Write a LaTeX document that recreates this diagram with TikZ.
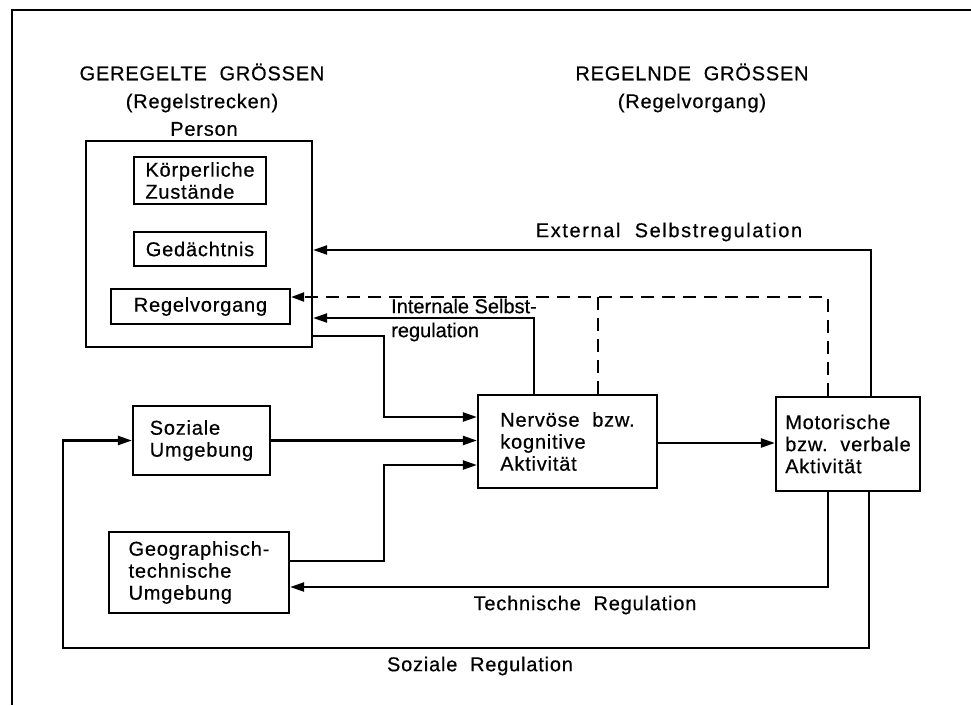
\documentclass[tikz,border=0pt]{standalone}
\usepackage{fontspec}
\setmainfont{Liberation Sans}[LetterSpace=4,WordSpace=2,FakeBold=0.5]
\newfontfamily\widerfont{Liberation Sans}[LetterSpace=8,WordSpace=2,FakeBold=0.5]
\newfontfamily\plainfont{Liberation Sans}[FakeBold=0.5]
\usetikzlibrary{arrows.meta}
\begin{document}
\frenchspacing
\begin{tikzpicture}[x=1pt,y=-1pt,
  every node/.style={font=\fontsize{20}{22}\selectfont\frenchspacing, inner sep=0pt},
  box/.style={draw, line width=2.2pt, align=left},
  conn/.style={line width=2.2pt},
  arr/.style={conn, -{Triangle[length=14pt,width=9pt]}},
  dashline/.style={conn, dash pattern=on 13pt off 8pt}]
\useasboundingbox (0,0) rectangle (971,705);
\draw[line width=1.5pt] (12,705) -- (12,10) -- (971,10);

% titles
\node (t1) at (202,72) {GEREGELTE GRÖSSEN};
\node (t2) at (202,103) {(Regelstrecken)};
\node (t3) at (692,72) {REGELNDE GRÖSSEN};
\node (t4) at (692,103) {(Regelvorgang)};

% person
\node[box, minimum width=226pt, minimum height=206pt] (person) at (199,244) {};
\node (personlbl) at (204,129) {Person};
\node[box, minimum width=132pt, minimum height=47pt] (koerper) at (200,180.5) {Körperliche\\Zustände};
\node[box, minimum width=132pt, minimum height=34pt, align=center] (gedaechtnis) at (200,249) {Gedächtnis};
\node[box, minimum width=179pt, minimum height=35pt, align=center] (regelv) at (200.5,306.5) {Regelvorgang};

% environment
\node[box, minimum width=137pt, minimum height=69pt] (soziale) at (201.5,440.5) {Soziale\\Umgebung};
\node[box, minimum width=180pt, minimum height=81pt] (geo) at (199,572.5) {Geographisch-\\technische\\Umgebung};

% activities
\node[box, minimum width=179pt, minimum height=93pt] (nervoese) at (567.5,441.5) {Nervöse bzw.\\kognitive\\Aktivität};
\node[box, minimum width=144pt, minimum height=94pt] (motor) at (848,444) {Motorische\\bzw. verbale\\Aktivität};

% helper coordinates
\coordinate (xext) at (871,250);
\coordinate (xdash) at (828,297);
\coordinate (xdb) at (598,297);
\coordinate (xint) at (534,318);
\coordinate (yp) at (384,336);
\coordinate (yn1) at (384,417);
\coordinate (ygeo) at (384,561);
\coordinate (yn3) at (384,465);
\coordinate (ynm) at (700,443);
\coordinate (xt) at (828,587);
\coordinate (xs) at (869,648);
\coordinate (xl) at (63,648);

% connectors
\draw[arr] (motor.north -| xext) |- (person.east |- xext);
\draw[dashline, -{Triangle[length=13pt,width=9pt]}] (motor.north -| xdash) |- (regelv.east |- xdash);
\draw[dashline] (xdb) -- (nervoese.north -| xdb);
\draw[arr] (nervoese.north -| xint) |- (person.east |- xint);
\draw[arr] (person.east |- yp) -| (yn1) -- (nervoese.west |- yn1);
\draw[arr] (soziale.east) -- (nervoese.west |- soziale.east);
\draw[arr] (geo.east |- ygeo) -| (yn3) -- (nervoese.west |- yn3);
\draw[arr] (nervoese.east |- ynm) -- (motor.west |- ynm);
\draw[arr] (motor.south -| xt) |- (geo.east |- xt);
\draw[arr] (motor.south -| xs) |- (xl) |- (soziale.west);

% labels
\node (extlbl) at (669,232) {\widerfont External Selbstregulation};
\node[align=left, anchor=west, font=\fontsize{20}{24}\selectfont\plainfont] (intlbl) at (391,320) {Internale Selbst-\\regulation};
\node (techlbl) at (585,605) {Technische Regulation};
\node (sozlbl) at (480,666) {Soziale Regulation};
\end{tikzpicture}
\end{document}
